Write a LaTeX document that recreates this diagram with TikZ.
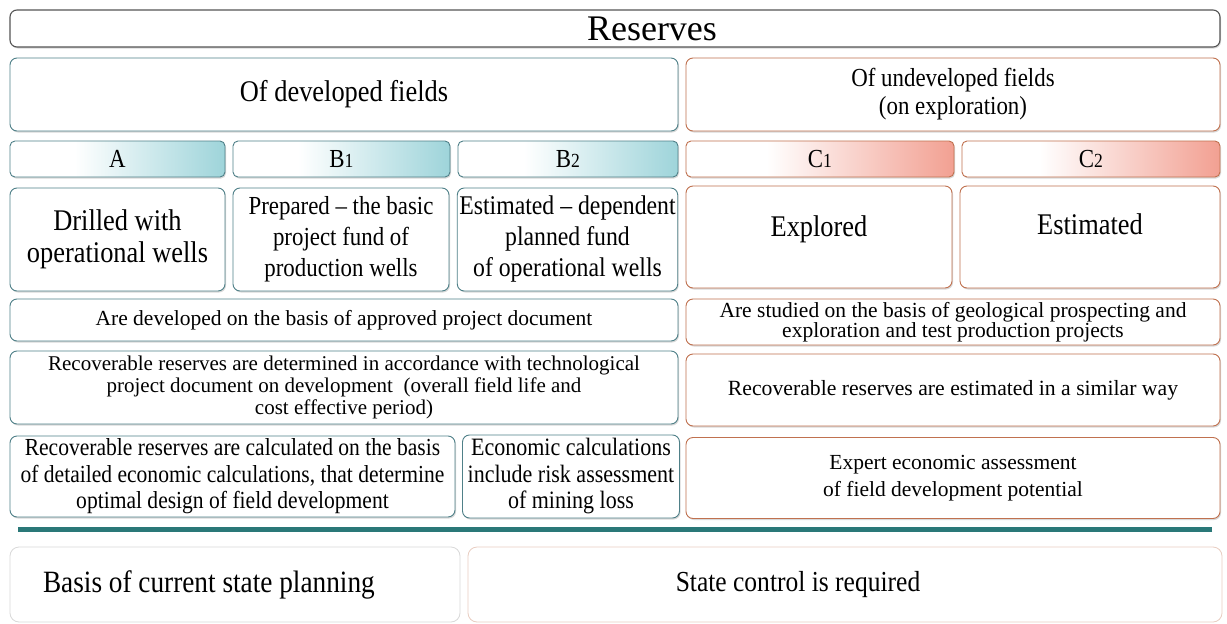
\documentclass[tikz,border=0pt]{standalone}
\usepackage{fontspec}
\setmainfont{Liberation Serif}
\newfontfamily\cond{Liberation Serif}[FakeStretch=0.88]
\newfontfamily\reg{Liberation Serif}
\usetikzlibrary{shadows}
\definecolor{tealb}{HTML}{4F8088}
\definecolor{tealf}{HTML}{9ED4DA}
\definecolor{orb}{HTML}{C0714F}
\definecolor{orf}{HTML}{F2A092}
\definecolor{rulec}{HTML}{2A7878}
\definecolor{topb}{HTML}{555555}
\pgfdeclarehorizontalshading{tealsh}{100bp}{color(0bp)=(white); color(40bp)=(white); color(75bp)=(tealf); color(100bp)=(tealf)}
\pgfdeclarehorizontalshading{orsh}{100bp}{color(0bp)=(white); color(40bp)=(white); color(75bp)=(orf); color(100bp)=(orf)}
\newcommand{\fs}[2]{\fontsize{#1}{#2}\selectfont}
\newcommand{\sdig}[1]{{\fontsize{20}{20}\selectfont #1}}
\tikzset{
  box/.style={draw, rounded corners=7pt, line width=0.9pt, fill=white, inner sep=2pt, align=center,
    drop shadow={shadow xshift=1pt, shadow yshift=-1.5pt, opacity=0.3}, font=\cond},
  lb/.style={box, draw=tealb},
  rb/.style={box, draw=orb},
  lhead/.style={lb, shading=tealsh, rounded corners=5pt},
  rhead/.style={rb, shading=orsh, rounded corners=5pt},
  basebox/.style={draw=#1, rounded corners=9pt, line width=0.8pt, fill=white, inner sep=2pt, font=\cond},
}
\begin{document}
\begin{tikzpicture}[x=1pt,y=-1pt]
\useasboundingbox (0,0) rectangle (1227,624);
\fill[white] (0,0) rectangle (1227,624);
% title
\node[box, draw=topb, line width=1.1pt, minimum width=1210pt, minimum height=37pt, font=\fs{36}{38}] (res) at (615,28.5) {\hspace*{74pt}Reserves};
% headers
\node[lb, minimum width=668pt, minimum height=73pt, font=\cond\fs{30}{32}] (dev) at (344,94.5) {Of developed fields};
\node[rb, minimum width=534pt, minimum height=73pt, font=\cond\fs{26}{28}] (undev) at (953,94.5) {Of undeveloped fields\\(on exploration)};
% categories
\node[lhead, minimum width=215pt, minimum height=36pt, font=\cond\fs{26}{28}] (A) at (117.5,159) {A};
\node[lhead, minimum width=217pt, minimum height=36pt, font=\cond\fs{26}{28}] (B1) at (341.5,159) {B\sdig{1}};
\node[lhead, minimum width=220pt, minimum height=36pt, font=\cond\fs{26}{28}] (B2) at (568,159) {B\sdig{2}};
\node[rhead, minimum width=268pt, minimum height=36pt, font=\cond\fs{26}{28}] (C1) at (820,159) {C\sdig{1}};
\node[rhead, minimum width=258pt, minimum height=36pt, font=\cond\fs{26}{28}] (C2) at (1091,159) {C\sdig{2}};
% descriptions
\node[lb, minimum width=215pt, minimum height=103pt, font=\cond\fs{30}{32}] (dA) at (117.5,239.5) {Drilled with\\operational wells};
\node[lb, minimum width=216pt, minimum height=103pt, font=\cond\fs{26}{31}] (dB1) at (341,239.5) {Prepared – the basic\\project fund of\\production wells};
\node[lb, minimum width=219pt, minimum height=103pt, font=\cond\fs{27}{31}] (dB2) at (567.5,239.5) {Estimated – dependent\\planned fund\\of operational wells};
\node[rb, minimum width=266pt, minimum height=102pt, text depth=22pt, font=\cond\fs{30}{32}] (dC1) at (819,237) {Explored};
\node[rb, minimum width=260pt, minimum height=102pt, text depth=25pt, font=\cond\fs{30}{32}] (dC2) at (1090,237) {Estimated};
% basis rows
\node[lb, minimum width=668pt, minimum height=42pt, font=\reg\fs{21.5}{23}] (devb) at (344,320) {Are developed on the basis of approved project document};
\node[rb, minimum width=534pt, minimum height=46pt, font=\reg\fs{21.5}{16.5}] (undevb) at (953,322) {Are studied on the basis of geological prospecting and\\exploration and test production projects};
\node[lb, minimum width=668pt, minimum height=73pt, font=\reg\fs{21}{22}] (devr) at (344,387.5) {Recoverable reserves are determined in accordance with technological\\project document on development\ \ (overall field life and\\cost effective period)};
\node[rb, minimum width=534pt, minimum height=72pt, font=\reg\fs{21.7}{23}] (undevr) at (953,390) {Recoverable reserves are estimated in a similar way};
\node[lb, minimum width=445pt, minimum height=81pt, font=\cond\fs{24.5}{26.5}] (calc) at (232.5,476.5) {Recoverable reserves are calculated on the basis\\of detailed economic calculations, that determine\\optimal design of field development};
\node[lb, minimum width=217pt, minimum height=83pt, font=\cond\fs{25}{26.5}] (econ) at (571,476.5) {Economic calculations\\include risk assessment\\of mining loss};
\node[rb, minimum width=534pt, minimum height=81pt, font=\reg\fs{21.5}{27}] (expert) at (953,478) {Expert economic assessment\\of field development potential};
% rule
\coordinate (ruleL) at (18,529);
\coordinate (ruleR) at (1212,529);
\draw[line width=5pt, rulec, drop shadow={shadow xshift=1pt, shadow yshift=-2pt, opacity=0.3}] (ruleL) -- (ruleR);
% bottom
\node[basebox=gray!30, minimum width=450pt, minimum height=75pt, font=\cond\fs{31}{32}] (plan) at (235,584.5) {\makebox[384pt][l]{Basis of current state planning}};
\node[basebox=orb!35, minimum width=754pt, minimum height=75pt, font=\cond\fs{29}{30}] (ctrl) at (845,584.5) {State control is required\hspace*{94pt}};
\end{tikzpicture}
\end{document}
